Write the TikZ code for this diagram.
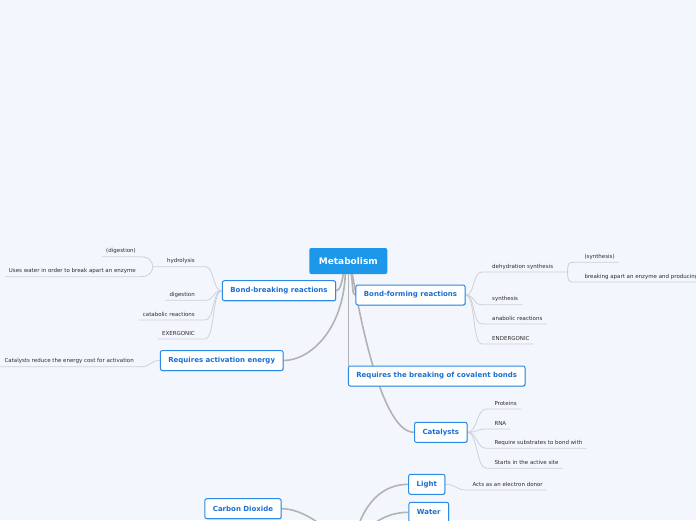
\documentclass[tikz,border=0pt]{standalone}
\usepackage{fontspec}
\setmainfont{DejaVu Sans}
\usetikzlibrary{shadows}
\definecolor{bgc}{HTML}{F3F6FD}
\definecolor{rootc}{HTML}{1C97E9}
\definecolor{topicc}{HTML}{2B8BE6}
\definecolor{topict}{HTML}{1A6FD2}
\definecolor{leaft}{HTML}{2C2C2C}
\definecolor{trunkc}{HTML}{B3B3B3}
\definecolor{twigc}{HTML}{CDD1DA}
\pgfdeclarelayer{bg}
\pgfsetlayers{bg,main}
\begin{document}
\begin{tikzpicture}[x=1pt, y=-1pt,
  rootbox/.style={fill=rootc, rounded corners=2pt, text=white, font=\fontsize{9}{10}\selectfont\bfseries,
    minimum width=78pt, minimum height=26pt},
  topic/.style={draw=topicc, line width=1pt, fill=white, rounded corners=2pt, text=topict,
    font=\fontsize{7}{8}\selectfont\bfseries, inner xsep=8pt, minimum height=20pt,
    drop shadow={shadow xshift=0.7pt, shadow yshift=-0.9pt, fill=black!40, opacity=.35}},
  leaf/.style={font=\fontsize{5.5}{6}\selectfont, text=leaft, inner xsep=4pt, inner ysep=2.5pt,
    text height=4.2pt, text depth=1.2pt},
  trunk/.style={line width=1.6pt, trunkc},
  twig/.style={line width=0.8pt, twigc}]
  \useasboundingbox (0,0) rectangle (696,520);
  % Main topics
  \node[rootbox] (meta) at (348.3,261) {Metabolism};
  \node[topic] (bb) at (279,290.7) {Bond-breaking reactions};
  \node[topic] (act) at (221.7,360.5) {Requires activation energy};
  \node[topic] (bf) at (410.5,295) {Bond-forming reactions};
  \node[topic] (brk) at (436.7,376) {Requires the breaking of covalent bonds};
  \node[topic] (cata) at (440.8,432.3) {Catalysts};
  \node[topic] (co2) at (243,508.7) {Carbon Dioxide};
  \node[topic] (light) at (426.8,484.3) {Light};
  \node[topic] (water) at (428.8,512.3) {Water};
  \coordinate (hid) at (352,552);
  % Leaves of Bond-breaking reactions
  \node[leaf, anchor=south east] (hyd) at (199,266.7) {hydrolysis};
  \node[leaf, anchor=south east] (dig) at (199,300.3) {digestion};
  \node[leaf, anchor=south east] (cat) at (199,320) {catabolic reactions};
  \node[leaf, anchor=south east] (exe) at (199,339) {EXERGONIC};
  \node[leaf, anchor=south east] (digp) at (140,256.7) {(digestion)};
  \node[leaf, anchor=south east] (uses) at (140,276.7) {Uses water in order to break apart an enzyme};
  \node[leaf, anchor=south east] (cred) at (138,366.7) {Catalysts reduce the energy cost for activation};
  % Leaves of Bond-forming reactions
  \node[leaf, anchor=south west] (dehy) at (488,272) {dehydration synthesis};
  \node[leaf, anchor=south west] (syn) at (488,304.7) {synthesis};
  \node[leaf, anchor=south west] (ana) at (488,324) {anabolic reactions};
  \node[leaf, anchor=south west] (endg) at (488,344) {ENDERGONIC};
  \node[leaf, anchor=south west] (synp) at (580.3,262.3) {(synthesis)};
  \node[leaf, anchor=south west] (brkap) at (580.3,282) {breaking apart an enzyme and producing};
  % Leaves of Catalysts and Light
  \node[leaf, anchor=south west] (prot) at (490.3,409) {Proteins};
  \node[leaf, anchor=south west] (rna) at (490.3,429) {RNA};
  \node[leaf, anchor=south west] (req) at (490.3,448.3) {Require substrates to bond with};
  \node[leaf, anchor=south west] (sta) at (490.3,468.3) {Starts in the active site};
  \node[leaf, anchor=south west] (don) at (468.3,490) {Acts as an electron donor};
  \begin{pgfonlayer}{bg}
    \fill[bgc] (0,0) rectangle (696,520);
    % trunks from the root
    \draw[trunk] ([xshift=-5pt]meta.south) .. controls (342,282) and (340,290.7) .. (bb.east);
    \draw[trunk] ([xshift=-3pt]meta.south) .. controls (343,330) and (310,360.5) .. (act.east);
    \draw[trunk] (meta.south) -- (meta.south |- brk.north);
    \draw[trunk] ([xshift=3pt]meta.south) .. controls (353,285) and (352,295) .. (bf.west);
    \draw[trunk] ([xshift=4pt]meta.south) .. controls (364,340) and (385,432.3) .. (cata.west);
    % trunks from below
    \draw[trunk] (hid) .. controls (330,530) and (305,508.7) .. (co2.east);
    \draw[trunk] (hid) .. controls (358,510) and (378,484.3) .. (light.west);
    \draw[trunk] (hid) .. controls (365,525) and (385,512.3) .. (water.west);
    % twigs, left side
    \draw[twig] (bb.west) .. controls +(-10,0) and +(10,0) .. ([xshift=6pt]hyd.south east) -- ([xshift=-10pt]hyd.south west);
    \draw[twig] (bb.west) .. controls +(-10,0) and +(10,0) .. ([xshift=6pt]dig.south east) -- (dig.south west);
    \draw[twig] (bb.west) .. controls +(-10,0) and +(10,0) .. ([xshift=6pt]cat.south east) -- (cat.south west);
    \draw[twig] (bb.west) .. controls +(-10,0) and +(10,0) .. ([xshift=6pt]exe.south east) -- (exe.south west);
    \draw[twig] ([xshift=-10pt]hyd.south west) .. controls +(-1,-8) and +(7,0) .. (digp.south east) -- (digp.south west);
    \draw[twig] ([xshift=-10pt]hyd.south west) .. controls +(-1,8) and +(7,0) .. (uses.south east) -- (uses.south west);
    \draw[twig] (act.west) .. controls +(-10,0) and +(10,0) .. ([xshift=3pt]cred.south east) -- (cred.south west);
    % twigs, right side
    \draw[twig] (bf.east) .. controls +(10,0) and +(-10,0) .. ([xshift=-6pt]dehy.south west) -- ([xshift=10pt]dehy.south east);
    \draw[twig] (bf.east) .. controls +(10,0) and +(-10,0) .. ([xshift=-6pt]syn.south west) -- (syn.south east);
    \draw[twig] (bf.east) .. controls +(10,0) and +(-10,0) .. ([xshift=-6pt]ana.south west) -- (ana.south east);
    \draw[twig] (bf.east) .. controls +(10,0) and +(-10,0) .. ([xshift=-6pt]endg.south west) -- (endg.south east);
    \draw[twig] ([xshift=10pt]dehy.south east) .. controls +(1,-8) and +(-7,0) .. ([xshift=-6pt]synp.south west) -- (synp.south east);
    \draw[twig] ([xshift=10pt]dehy.south east) .. controls +(1,8) and +(-7,0) .. ([xshift=-6pt]brkap.south west) -- (brkap.south east);
    \draw[twig] (cata.east) .. controls +(10,0) and +(-10,0) .. ([xshift=-4pt]prot.south west) -- (prot.south east);
    \draw[twig] (cata.east) .. controls +(10,0) and +(-10,0) .. ([xshift=-4pt]rna.south west) -- (rna.south east);
    \draw[twig] (cata.east) .. controls +(10,0) and +(-10,0) .. ([xshift=-4pt]req.south west) -- (req.south east);
    \draw[twig] (cata.east) .. controls +(10,0) and +(-10,0) .. ([xshift=-4pt]sta.south west) -- (sta.south east);
    \draw[twig] (light.east) .. controls +(10,0) and +(-10,0) .. ([xshift=-2pt]don.south west) -- (don.south east);
  \end{pgfonlayer}
\end{tikzpicture}
\end{document}
